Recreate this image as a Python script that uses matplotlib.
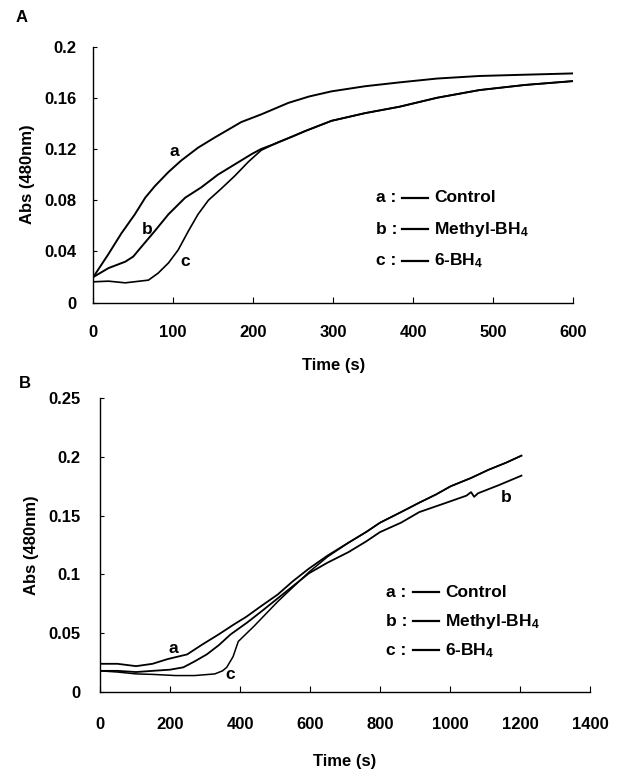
import matplotlib

matplotlib.use("Agg")
import matplotlib.pyplot as plt
from matplotlib.lines import Line2D

plt.rcParams["font.family"] = ["Liberation Sans", "DejaVu Sans"]
plt.rcParams["font.weight"] = "bold"
plt.rcParams["mathtext.fontset"] = "custom"
plt.rcParams["mathtext.rm"] = "Liberation Sans:bold"
plt.rcParams["mathtext.default"] = "rm"

# panel A (0-600 s)
a_time_a = [0, 19, 35, 52, 65, 77, 94, 110, 131, 152, 185, 210, 244, 270, 298, 340, 383, 430, 483, 540, 600]
a_ctrl = [0.020, 0.038, 0.054, 0.069, 0.082, 0.091, 0.102, 0.111, 0.121, 0.129, 0.141, 0.147, 0.156, 0.161, 0.165, 0.169, 0.172, 0.175, 0.177, 0.178, 0.179]
a_time_b = [0, 19, 40, 50, 60, 77, 94, 115, 135, 156, 177, 198, 210, 227, 250, 265, 298, 340, 383, 430, 483, 540, 600]
a_meth = [0.020, 0.027, 0.032, 0.036, 0.0435, 0.056, 0.069, 0.082, 0.090, 0.100, 0.108, 0.116, 0.120, 0.124, 0.130, 0.134, 0.142, 0.148, 0.153, 0.160, 0.166, 0.170, 0.173]
a_time_c = [0, 19, 40, 69, 81, 94, 106, 119, 131, 144, 160, 177, 194, 210, 230, 250, 265, 298, 340, 383, 430, 483, 540, 600]
a_6bh4 = [0.0163, 0.0168, 0.0155, 0.0176, 0.023, 0.031, 0.041, 0.056, 0.069, 0.080, 0.089, 0.099, 0.110, 0.119, 0.125, 0.130, 0.134, 0.142, 0.148, 0.153, 0.160, 0.166, 0.170, 0.173]

# panel B (0-1200 s)
b_time_a = [0, 50, 103, 150, 193, 249, 290, 339, 380, 418, 460, 508, 550, 597, 650, 710, 760, 800, 860, 912, 960, 1002, 1060, 1110, 1160, 1204]
b_ctrl = [0.024, 0.024, 0.022, 0.024, 0.028, 0.032, 0.040, 0.049, 0.057, 0.064, 0.073, 0.083, 0.094, 0.105, 0.116, 0.127, 0.136, 0.144, 0.153, 0.161, 0.168, 0.175, 0.182, 0.189, 0.195, 0.201]
b_time_b = [0, 50, 103, 150, 200, 238, 270, 305, 340, 373, 420, 463, 530, 597, 650, 710, 760, 800, 860, 912, 980, 1047, 1060, 1069, 1080, 1140, 1204]
b_meth = [0.018, 0.018, 0.017, 0.018, 0.019, 0.021, 0.026, 0.032, 0.040, 0.049, 0.059, 0.069, 0.085, 0.101, 0.110, 0.119, 0.128, 0.136, 0.144, 0.153, 0.160, 0.167, 0.170, 0.166, 0.169, 0.176, 0.184]
b_time_c = [0, 50, 103, 150, 216, 270, 328, 350, 362, 380, 395, 440, 508, 597, 650, 710, 760, 800, 860, 912, 960, 1002, 1060, 1110, 1160, 1204]
b_6bh4 = [0.018, 0.017, 0.0154, 0.015, 0.014, 0.014, 0.0154, 0.018, 0.021, 0.030, 0.043, 0.056, 0.077, 0.102, 0.115, 0.127, 0.136, 0.144, 0.153, 0.161, 0.168, 0.175, 0.182, 0.189, 0.195, 0.201]

legend_keys = ["a :", "b :", "c :"]
legend_names = ["Control", "Methyl-BH$_4$", "6-BH$_4$"]

fig = plt.figure(figsize=(6.19, 7.69), dpi=100)
ax_a = fig.add_axes([0.1507, 0.6064, 0.775, 0.3331])
ax_b = fig.add_axes([0.1616, 0.1001, 0.7916, 0.3823])


def style_axes(ax, xmax, ymax, xstep, ystep, ypad, xpad, lpad):
    ax.set_xlim(0, xmax)
    ax.set_ylim(0, ymax)
    ax.set_xticks(range(0, xmax + 1, xstep))
    yt = [round(i * ystep, 3) for i in range(int(round(ymax / ystep)) + 1)]
    ax.set_yticks(yt)
    ax.set_yticklabels(["0" if v == 0 else f"{v:g}" for v in yt])
    ax.spines["top"].set_visible(False)
    ax.spines["right"].set_visible(False)
    for s in ("left", "bottom"):
        ax.spines[s].set_linewidth(1.0)
    ax.tick_params(axis="x", direction="in", length=4, width=0.8, pad=xpad, labelsize=12)
    ax.tick_params(axis="y", direction="in", length=3, width=0.8, pad=ypad, labelsize=12)
    ax.set_xlabel("Time (s)", fontsize=12, fontweight="bold", labelpad=lpad)
    ax.set_ylabel("Abs (480nm)", fontsize=12, fontweight="bold", labelpad=7)


def legend(ax, x, y0, dy):
    for i, (k, n) in enumerate(zip(legend_keys, legend_names)):
        y = y0 - i * dy
        ax.text(x, y, k, transform=ax.transAxes, fontsize=12.5, va="center", ha="left")
        ax.add_line(Line2D([x + 0.054, x + 0.108], [y, y], transform=ax.transAxes, color="black", lw=1.6))
        ax.text(x + 0.12, y, n, transform=ax.transAxes, fontsize=12.5, va="center", ha="left")


ax_a.plot(a_time_a, a_ctrl, color="black", lw=1.4)
ax_a.plot(a_time_b, a_meth, color="black", lw=1.4)
ax_a.plot(a_time_c, a_6bh4, color="black", lw=1.2)
style_axes(ax_a, 600, 0.2, 100, 0.04, 12, 16, 13)
ax_a.text(101, 0.118, "a", fontsize=12.5, ha="center", va="center")
ax_a.text(68, 0.057, "b", fontsize=12.5, ha="center", va="center")
ax_a.text(115, 0.032, "c", fontsize=12.5, ha="center", va="center")
legend(ax_a, 0.590, 0.409, 0.123)

ax_b.plot(b_time_a, b_ctrl, color="black", lw=1.3)
ax_b.plot(b_time_b, b_meth, color="black", lw=1.3)
ax_b.plot(b_time_c, b_6bh4, color="black", lw=1.1)
style_axes(ax_b, 1400, 0.25, 200, 0.05, 14, 18, 16)
ax_b.text(209, 0.0374, "a", fontsize=12.5, ha="center", va="center")
ax_b.text(371, 0.0145, "c", fontsize=12.5, ha="center", va="center")
ax_b.text(1160, 0.165, "b", fontsize=12.5, ha="center", va="center")
legend(ax_b, 0.584, 0.340, 0.099)

fig.text(22 / 619, 1 - 18 / 769, "A", fontsize=12, ha="center", va="center")
fig.text(25 / 619, 1 - 383 / 769, "B", fontsize=12, ha="center", va="center")

fig.savefig("out.png", dpi=100)
